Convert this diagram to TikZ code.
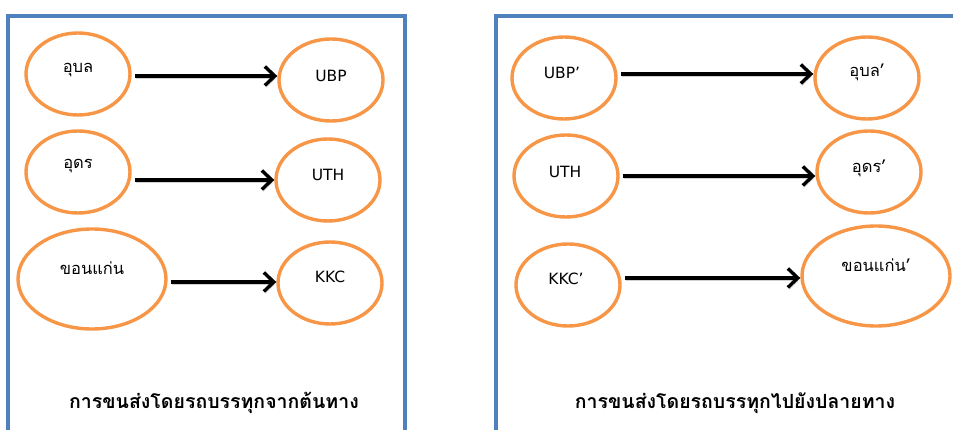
\documentclass[tikz,border=0pt]{standalone}
\usepackage{fontspec}
\setmainfont{DejaVu Sans}
\newfontfamily\thai[Script=Thai]{Loma}
\usetikzlibrary{shapes.geometric,arrows.meta}
\definecolor{framebl}{HTML}{4F81BD}
\definecolor{ringor}{HTML}{F79646}
\tikzset{
  x=1pt, y=-1pt,
  panel/.style={draw=framebl, line width=3.2pt},
  city/.style={ellipse, draw=ringor, line width=3.4pt, inner sep=0pt,
    minimum width=104pt, minimum height=82pt},
  bigcity/.style={city, minimum width=148pt, minimum height=100pt},
  lab/.style={font=\fontsize{15.5}{17}\selectfont},
  thlab/.style={font=\thai\fontsize{16.5}{18}\selectfont},
  caption/.style={font=\thai\bfseries\fontsize{19.5}{22}\selectfont},
  flow/.style={line width=3.4pt, -{Straight Barb[length=10pt,width=19pt,line width=3.4pt]},
    shorten <=3pt,
    preaction={draw=black!45, opacity=.4, transform canvas={shift={(1.5pt,-2pt)}}}},
}
\begin{document}
\begin{tikzpicture}
\useasboundingbox (0,0) rectangle (953,430);
\clip (0,0) rectangle (953,430);

% frames of the two panels
\draw[panel] (8,440) -- (8,16) -- (405,16) -- (405,440);
\draw[panel] (496,440) -- (496,16) -- (960,16);

% left panel: origins to terminals
\node[city] (ubn) at (78,74) {};
\node[thlab] at ([yshift=4pt]ubn.center) {อุบล};
\node[city] (ubp) at (331,80) {};
\node[lab] at ([yshift=4pt]ubp.center) {UBP};

\node[city] (udn) at (78,172) {};
\node[thlab] at ([yshift=6pt]udn.center) {อุดร};
\node[city] (uth) at (328,180) {};
\node[lab] at ([yshift=5pt]uth.center) {UTH};

\node[bigcity] (kkn) at (92,279) {};
\node[thlab] at ([yshift=11pt]kkn.center) {ขอนแก่น};
\node[city] (kkc) at (330,283) {};
\node[lab] at ([yshift=6pt]kkc.center) {KKC};

\coordinate (la) at (0,76);
\coordinate (lb) at (0,180);
\coordinate (lc) at (0,282);
\draw[flow] (ubn.east |- la) -- (ubp.west |- la);
\draw[flow] (udn.east |- lb) -- (uth.west |- lb);
\draw[flow] (kkn.east |- lc) -- (kkc.west |- lc);

\node[caption] (capl) at (214,403) {การขนส่งโดยรถบรรทุกจากต้นทาง};

% right panel: terminals to destinations
\node[city] (ubpd) at (564,78) {};
\node[lab] at ([yshift=5pt,xshift=-2pt]ubpd.center) {UBP’};
\node[city] (ubnd) at (867,78) {};
\node[thlab] at ([yshift=6pt]ubnd.center) {อุบล’};

\node[city] (uthd) at (566,176) {};
\node[lab] at ([yshift=4pt,xshift=-1pt]uthd.center) {UTH};
\node[city] (udnd) at (869,172) {};
\node[thlab] at ([yshift=4pt]udnd.center) {อุดร’};

\node[city] (kkcd) at (568,285) {};
\node[lab] at ([yshift=6pt,xshift=-2pt]kkcd.center) {KKC’};
\node[bigcity] (kknd) at (876,276) {};
\node[thlab] at ([yshift=11pt]kknd.center) {ขอนแก่น’};

\coordinate (ra) at (0,74);
\coordinate (rb) at (0,176);
\coordinate (rc) at (0,278);
\draw[flow] (ubpd.east |- ra) -- (ubnd.west |- ra);
\draw[flow] (uthd.east |- rb) -- (udnd.west |- rb);
\draw[flow] (kkcd.east |- rc) -- (kknd.west |- rc);

\node[caption] (capr) at (735,403) {การขนส่งโดยรถบรรทุกไปยังปลายทาง};
\end{tikzpicture}
\end{document}
